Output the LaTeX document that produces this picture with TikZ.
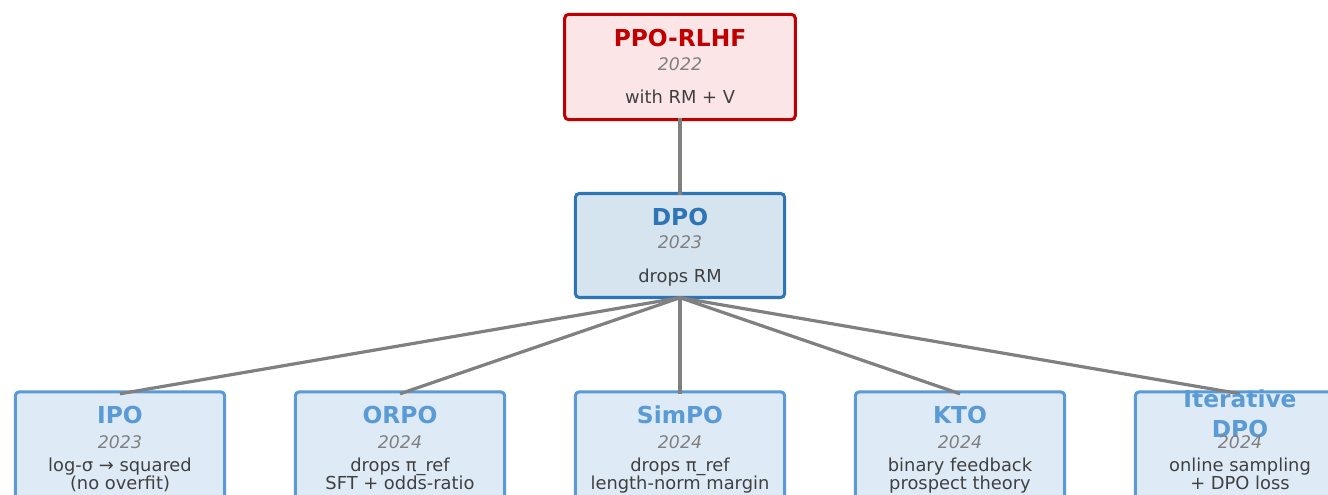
\documentclass[tikz,border=0pt]{standalone}
\usepackage{fontspec}
\setmainfont{DejaVu Sans}
\definecolor{ppoline}{HTML}{C00000}
\definecolor{ppofill}{HTML}{FBE5E6}
\definecolor{dpoline}{HTML}{2E75B6}
\definecolor{dpofill}{HTML}{D6E4F0}
\definecolor{varline}{HTML}{5B9BD5}
\definecolor{varfill}{HTML}{DEEAF6}
\definecolor{yeargray}{HTML}{808080}
\definecolor{descgray}{HTML}{404040}
\definecolor{linkgray}{HTML}{808080}
\begin{document}
\begin{tikzpicture}[x=0.75pt,y=-0.75pt,
  box/.style={rectangle, rounded corners=3pt, line width=2.3pt, inner sep=0pt},
  ppobox/.style={box, draw=ppoline, fill=ppofill, minimum width=173pt, minimum height=79pt},
  dpobox/.style={box, draw=dpoline, fill=dpofill, minimum width=157pt, minimum height=78pt},
  varbox/.style={box, draw=varline, fill=varfill, minimum width=157pt, minimum height=112pt},
  link/.style={draw=linkgray, line width=2.4pt},
  txt/.style={anchor=base, inner sep=0pt},
  ppotitle/.style={txt, font=\fontsize{17.5}{21}\selectfont\bfseries, text=ppoline},
  dpotitle/.style={txt, font=\fontsize{17.5}{21}\selectfont\bfseries, text=dpoline},
  vartitle/.style={txt, font=\fontsize{17.5}{21}\selectfont\bfseries, text=varline},
  year/.style={txt, font=\fontsize{13}{15}\selectfont\itshape, text=yeargray},
  desc/.style={txt, font=\fontsize{13.4}{15}\selectfont, text=descgray}]
\clip (0,0) rectangle (1328,494);
\fill[white] (0,0) rectangle (1328,494);

% boxes
\node[ppobox] (ppo) at (680,67) {};
\node[dpobox] (dpo) at (680,245.5) {};
\node[varbox] (ipo) at (120,466.5) {};
\node[varbox] (orpo) at (400,466.5) {};
\node[varbox] (simpo) at (680,466.5) {};
\node[varbox] (kto) at (960,466.5) {};
\node[varbox] (itdpo) at (1240,466.5) {};

% connectors
\draw[link] ([yshift=2.6pt]ppo.south) -- ([yshift=-2pt]dpo.north);
\foreach \v in {ipo,orpo,simpo,kto,itdpo}
  \draw[link] ([yshift=1pt]dpo.south) -- ([yshift=-2.6pt]\v.north);

% PPO-RLHF
\node[ppotitle] (t0) at (680,46) {PPO-RLHF};
\node[year] (y0) at (680,70) {2022};
\node[desc] (d0) at (680,103) {with RM + V};

% DPO
\node[dpotitle] (t1) at (680,225) {DPO};
\node[year] (y1) at (680,248) {2023};
\node[desc] (d1) at (680,282) {drops RM};

% variants
\node[vartitle] (t2) at (120,423) {IPO};
\node[year] (y2) at (120,448) {2023};
\node[desc] (d2a) at (120,471) {log-σ → squared};
\node[desc] (d2b) at (120,489) {(no overfit)};

\node[vartitle] (t3) at (400,423) {ORPO};
\node[year] (y3) at (400,448) {2024};
\node[desc] (d3a) at (400,471) {drops π\_ref};
\node[desc] (d3b) at (400,489) {SFT + odds-ratio};

\node[vartitle] (t4) at (680,423) {SimPO};
\node[year] (y4) at (680,448) {2024};
\node[desc] (d4a) at (680,471) {drops π\_ref};
\node[desc] (d4b) at (680,489) {length-norm margin};

\node[vartitle] (t5) at (960,423) {KTO};
\node[year] (y5) at (960,448) {2024};
\node[desc] (d5a) at (960,471) {binary feedback};
\node[desc] (d5b) at (960,489) {prospect theory};

\node[vartitle] (t6a) at (1240,407) {Iterative};
\node[vartitle] (t6b) at (1240,437) {DPO};
\node[year] (y6) at (1240,448) {2024};
\node[desc] (d6a) at (1240,471) {online sampling};
\node[desc] (d6b) at (1240,489) {+ DPO loss};
\end{tikzpicture}
\end{document}
